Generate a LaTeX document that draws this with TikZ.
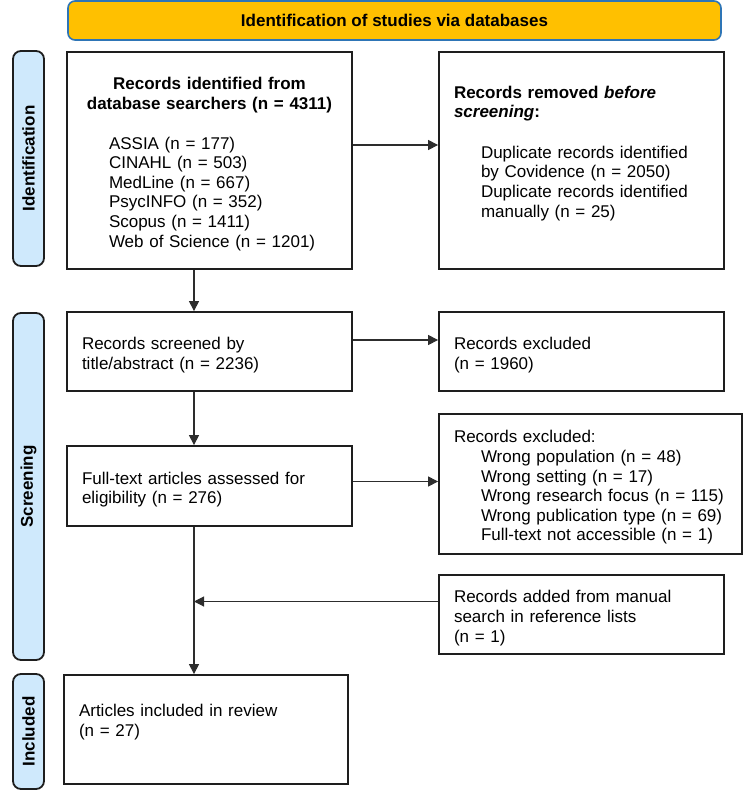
\documentclass[tikz,border=0pt]{standalone}
\usepackage{fontspec}
\setmainfont{Liberation Sans}
\usetikzlibrary{arrows.meta,calc}
\definecolor{bannerfill}{RGB}{255,192,0}
\definecolor{bannerline}{RGB}{46,117,182}
\definecolor{sidefill}{RGB}{207,233,252}
\definecolor{boxline}{RGB}{30,30,30}
\definecolor{conn}{RGB}{45,45,45}
\newcommand{\topfix}{\rule{0pt}{19.5pt}}
\begin{document}
\begin{tikzpicture}[x=1pt,y=-1pt,
  txt/.style={font=\fontsize{17pt}{19.6pt}\selectfont},
  box/.style={txt, draw=boxline, line width=1.8pt, fill=white, inner xsep=15pt, inner ysep=0pt, align=left, anchor=center},
  banner/.style={txt, draw=bannerline, line width=1.6pt, fill=bannerfill, rounded corners=7pt, inner sep=0pt, anchor=center},
  side/.style={txt, draw=boxline, line width=1.8pt, fill=sidefill, rounded corners=8pt, inner sep=0pt, anchor=center},
  arr/.style={draw=conn, line width=1.1pt, -{Triangle[length=10pt,width=10pt]}},
  plain/.style={draw=conn, line width=1.1pt}
]
\useasboundingbox (0,0) rectangle (744,790);

% banner and phase labels
\node[banner, minimum width=653pt, minimum height=39pt] (top) at (394.5,20.5) {\raisebox{-1.5pt}{\bfseries Identification of studies via databases}};
\node[side, rotate=90, minimum width=215pt, minimum height=31pt] (lid) at (28.5,158.5) {\bfseries Identification};
\node[side, rotate=90, minimum width=347pt, minimum height=31pt] (lscr) at (28.5,486.5) {\bfseries Screening};
\node[side, rotate=90, minimum width=115pt, minimum height=31pt] (linc) at (28.5,731.5) {\bfseries Included};

% boxes
\node[box, minimum height=217pt, text width=255pt] (ident) at (209.5,160.5) {%
\topfix\makebox[255pt]{\bfseries Records identified from}\\
\makebox[255pt]{\bfseries database searchers (n = 4311)}\\[20pt]
\hspace*{27pt}ASSIA (n = 177)\\
\hspace*{27pt}CINAHL (n = 503)\\
\hspace*{27pt}MedLine (n = 667)\\
\hspace*{27pt}PsycINFO (n = 352)\\
\hspace*{27pt}Scopus (n = 1411)\\
\hspace*{27pt}Web of Science (n = 1201)};

\node[box, minimum height=217pt, text width=255pt] (removed) at (581.5,160.5) {%
\topfix\textbf{Records removed \textit{before}}\\
\textbf{\textit{screening}:}\\[21pt]
\hspace*{27pt}Duplicate records identified\\
\hspace*{27pt}by Covidence (n = 2050)\\
\hspace*{27pt}Duplicate records identified\\
\hspace*{27pt}manually (n = 25)\\
\strut};

\node[box, minimum height=79pt, text width=255pt] (screened) at (209.5,351.5) {%
\topfix Records screened by\\
title/abstract (n = 2236)};

\node[box, minimum height=79pt, text width=255pt] (excl1) at (581.5,351.5) {%
\topfix Records excluded\\
(n = 1960)};

\node[box, minimum height=80pt, text width=255pt] (fulltext) at (209.5,486) {%
\topfix Full-text articles assessed for\\
eligibility (n = 276)};

\node[box, minimum height=140pt, text width=273pt] (excl2) at (590.5,484) {%
\topfix Records excluded:\\
\hspace*{27pt}Wrong population (n = 48)\\
\hspace*{27pt}Wrong setting (n = 17)\\
\hspace*{27pt}Wrong research focus (n = 115)\\
\hspace*{27pt}Wrong publication type (n = 69)\\
\hspace*{27pt}Full-text not accessible (n = 1)};

\node[box, minimum height=79pt, text width=255pt] (added) at (581.5,614.5) {%
\topfix Records added from manual\\
search in reference lists\\
(n = 1)};

\node[box, minimum height=109pt, text width=254pt] (included) at (206,729.5) {%
\topfix Articles included in review\\
(n = 27)\\
\strut};

% connector coordinates
\coordinate (a1) at ([yshift=15.5pt]ident.east);
\coordinate (b1) at ([xshift=-15.5pt]ident.south);
\coordinate (a2) at ([yshift=11.5pt]screened.east);
\coordinate (b2) at ([xshift=-15.5pt]screened.south);
\coordinate (a3) at ([yshift=4.5pt]fulltext.east);
\coordinate (b3) at ([xshift=-15.5pt]fulltext.south);
\coordinate (a4) at ([yshift=13pt]added.west);

% connectors
\draw[arr] (a1) -- (a1 -| removed.west);
\draw[arr] (b1) -- (b1 |- screened.north);
\draw[arr] (a2) -- (a2 -| excl1.west);
\draw[arr] (b2) -- (b2 |- fulltext.north);
\draw[arr] (a3) -- (a3 -| excl2.west);
\draw[arr] (b3) -- (b3 |- included.north);
\draw[arr] (a4) -- (b3 |- a4);
\end{tikzpicture}
\end{document}
